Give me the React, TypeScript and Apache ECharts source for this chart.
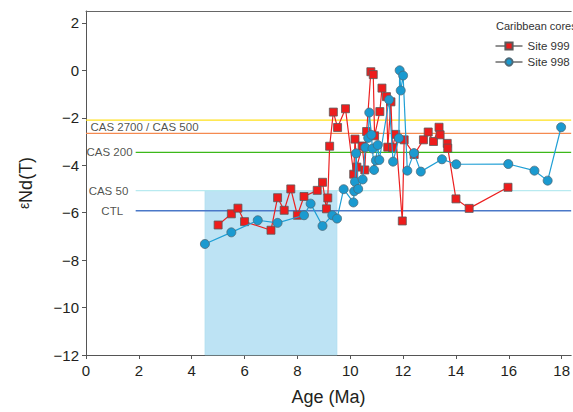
import React, { useEffect, useRef } from "react";
import * as echarts from "echarts";

// Site 999 (red squares)
const age999 = [5.0, 5.5, 5.75, 6.0, 7.0, 7.25, 7.5, 7.75, 8.0, 8.25, 8.75, 8.95, 9.1, 9.15, 9.22, 9.36, 9.52, 9.82, 10.13, 10.18, 10.25, 10.45, 10.55, 10.62, 10.78, 10.87, 10.92, 11.12, 11.2, 11.37, 11.42, 11.54, 11.6, 11.72, 11.97, 12.04, 12.42, 12.77, 12.95, 13.15, 13.36, 13.4, 13.67, 13.69, 14.0, 14.5, 15.97];
const eps999 = [-6.52, -6.05, -5.81, -6.38, -6.74, -5.37, -5.9, -5.0, -6.11, -5.32, -5.06, -4.72, -5.84, -5.38, -3.2, -1.76, -2.41, -1.62, -4.38, -2.9, -4.08, -3.19, -4.2, -2.58, -0.06, -0.18, -2.76, -1.74, -0.75, -1.11, -3.24, -1.33, -3.26, -2.7, -6.35, -2.93, -3.55, -2.93, -2.6, -3.0, -2.4, -2.72, -3.08, -3.28, -5.42, -5.82, -4.93];

// Site 998 (blue circles)
const age998 = [4.5, 5.5, 6.5, 7.25, 8.25, 8.5, 8.95, 9.32, 9.5, 9.75, 10.12, 10.15, 10.18, 10.22, 10.3, 10.47, 10.57, 10.68, 10.72, 10.8, 10.84, 10.9, 10.97, 11.04, 11.1, 11.47, 11.62, 11.84, 11.87, 11.91, 12.0, 12.16, 12.41, 12.67, 13.47, 14.01, 15.98, 16.97, 17.47, 17.98];
const eps998 = [-7.32, -6.83, -6.32, -6.43, -6.11, -5.62, -6.56, -6.11, -6.25, -5.01, -5.57, -5.1, -4.7, -3.5, -5.0, -4.6, -3.25, -2.85, -1.78, -2.72, -3.3, -4.2, -3.8, -3.15, -3.78, -1.24, -3.85, -2.86, 0.0, -0.85, -0.22, -4.23, -3.49, -4.27, -3.75, -3.96, -3.95, -4.23, -4.65, -2.4];

// Model reference levels
const refNames = ["CAS 2700", "CAS 500", "CAS 200", "CAS 50", "CTL"];
const refValues = [-2.1, -2.66, -3.46, -5.07, -5.92];
const refStart = [0, 0, 1.88, 1.88, 1.88];
const refColors = ["#ffe01a", "#f58a50", "#3cb81a", "#b8eaf0", "#4a78c8"];

// Reference labels: text, x, y
const labelTexts = ["CAS 2700 / CAS 500", "CAS 200", "CAS 50", "CTL"];
const labelX = [0.17, 0.02, 0.1, 0.58];
const labelY = [-2.39, -3.46, -5.07, -5.92];

// Shaded interval
const shadeX = [4.5, 9.5];
const shadeY = [-12, -5.07];

const xTicks = [0, 2, 4, 6, 8, 10, 12, 14, 16, 18];
const yTicks = [-12, -10, -8, -6, -4, -2, 0, 2];
const xMin = 0, xMax = 18.36, yMin = -12, yMax = 2.5;

const FONT = "Liberation Sans, Arial, Helvetica, sans-serif";
const fmt = (v: number) => (v < 0 ? "\u2212" + Math.abs(v) : String(v));

export default function App() {
  const ref = useRef<HTMLDivElement>(null);
  useEffect(() => {
    if (!ref.current) return;
    const chart = echarts.init(ref.current, undefined, { renderer: "svg" });
    const refSeries = refNames.map((n, i) => ({
      name: n,
      type: "line",
      data: [[refStart[i], refValues[i]], [xMax, refValues[i]]],
      symbol: "none",
      lineStyle: { color: refColors[i], width: 1.4 },
      z: 2,
      silent: true,
    }));
    chart.setOption({
      animation: false,
      textStyle: { fontFamily: FONT },
      grid: { left: 86, right: 0, top: 11, bottom: 57, containLabel: false },
      title: {
        text: "Caribbean cores",
        left: 491,
        top: 15,
        textStyle: { fontSize: 11, fontWeight: "normal", color: "#333", fontFamily: FONT },
      },
      legend: {
        orient: "vertical",
        left: 490,
        top: 35,
        itemWidth: 27,
        itemHeight: 9,
        itemGap: 4,
        data: ["Site 999", "Site 998"],
        textStyle: { fontSize: 11.5, color: "#333", fontFamily: FONT },
        lineStyle: { color: "#222", width: 1 },
      },
      xAxis: [
        {
          type: "value",
          min: xMin,
          max: xMax,
          name: "Age (Ma)",
          nameLocation: "middle",
          nameGap: 33,
          nameTextStyle: { fontSize: 18, color: "#231f20", fontFamily: FONT },
          axisLine: { onZero: false, lineStyle: { color: "#555", width: 1 } },
          axisTick: { show: true, length: 4, customValues: xTicks, lineStyle: { color: "#555" } },
          axisLabel: { customValues: xTicks, fontSize: 15, color: "#231f20", margin: 8, formatter: fmt },
          splitLine: { show: false },
        },
        {
          type: "value",
          position: "top",
          min: xMin,
          max: xMax,
          axisLine: { show: true, onZero: false, lineStyle: { color: "#666", width: 1 } },
          axisTick: { show: false },
          axisLabel: { show: false },
          splitLine: { show: false },
        },
      ],
      yAxis: {
        type: "value",
        min: yMin,
        max: yMax,
        name: "{e|\u03b5}{n|Nd(T)}",
        nameLocation: "middle",
        nameGap: 51,
        nameTextStyle: {
          color: "#231f20",
          rich: {
            e: { fontSize: 14, color: "#231f20", fontFamily: FONT, verticalAlign: "top", padding: [0, 0, 3, 0] },
            n: { fontSize: 18, color: "#231f20", fontFamily: FONT },
          },
        },
        axisLine: { show: true, onZero: false, lineStyle: { color: "#555", width: 1 } },
        axisTick: { show: true, length: 4, customValues: yTicks, lineStyle: { color: "#555" } },
        axisLabel: { customValues: yTicks, fontSize: 15, color: "#231f20", margin: 7, formatter: fmt },
        splitLine: { show: false },
      },
      series: [
        {
          name: "shade",
          type: "line",
          data: [],
          z: 1,
          silent: true,
          markArea: {
            silent: true,
            itemStyle: { color: "#bde3f4", borderColor: "#a9dcef", borderWidth: 0.5 },
            data: [[{ coord: [shadeX[0], shadeY[0]] }, { coord: [shadeX[1], shadeY[1]] }]],
          },
        },
        ...refSeries,
        {
          name: "labels",
          type: "scatter",
          symbolSize: 0,
          silent: true,
          z: 3,
          itemStyle: { color: "#231f20" },
          data: labelTexts.map((t, i) => ({ value: [labelX[i], labelY[i]], name: t })),
          label: {
            show: true,
            position: "right",
            distance: 0,
            formatter: (p: any) => p.name,
            fontSize: 11.5,
            color: "#231f20",
            fontFamily: FONT,
          },
        },
        {
          name: "Site 999",
          type: "line",
          data: age999.map((a, i) => [a, eps999[i]]),
          symbol: "rect",
          symbolSize: 8,
          lineStyle: { color: "#ec2020", width: 1.2 },
          itemStyle: { color: "#ee1c1c", borderColor: "#5a5a5a", borderWidth: 0.8 },
          z: 5,
        },
        {
          name: "Site 998",
          type: "line",
          data: age998.map((a, i) => [a, eps998[i]]),
          symbol: "circle",
          symbolSize: 9,
          lineStyle: { color: "#1f9fd5", width: 1.2 },
          itemStyle: { color: "#1a9ad0", borderColor: "#4d6a78", borderWidth: 0.8 },
          z: 6,
        },
      ],
    });
    return () => chart.dispose();
  }, []);
  return <div ref={ref} style={{ width: 573, height: 412, position: "absolute", left: 0, top: 0 }} />;
}
